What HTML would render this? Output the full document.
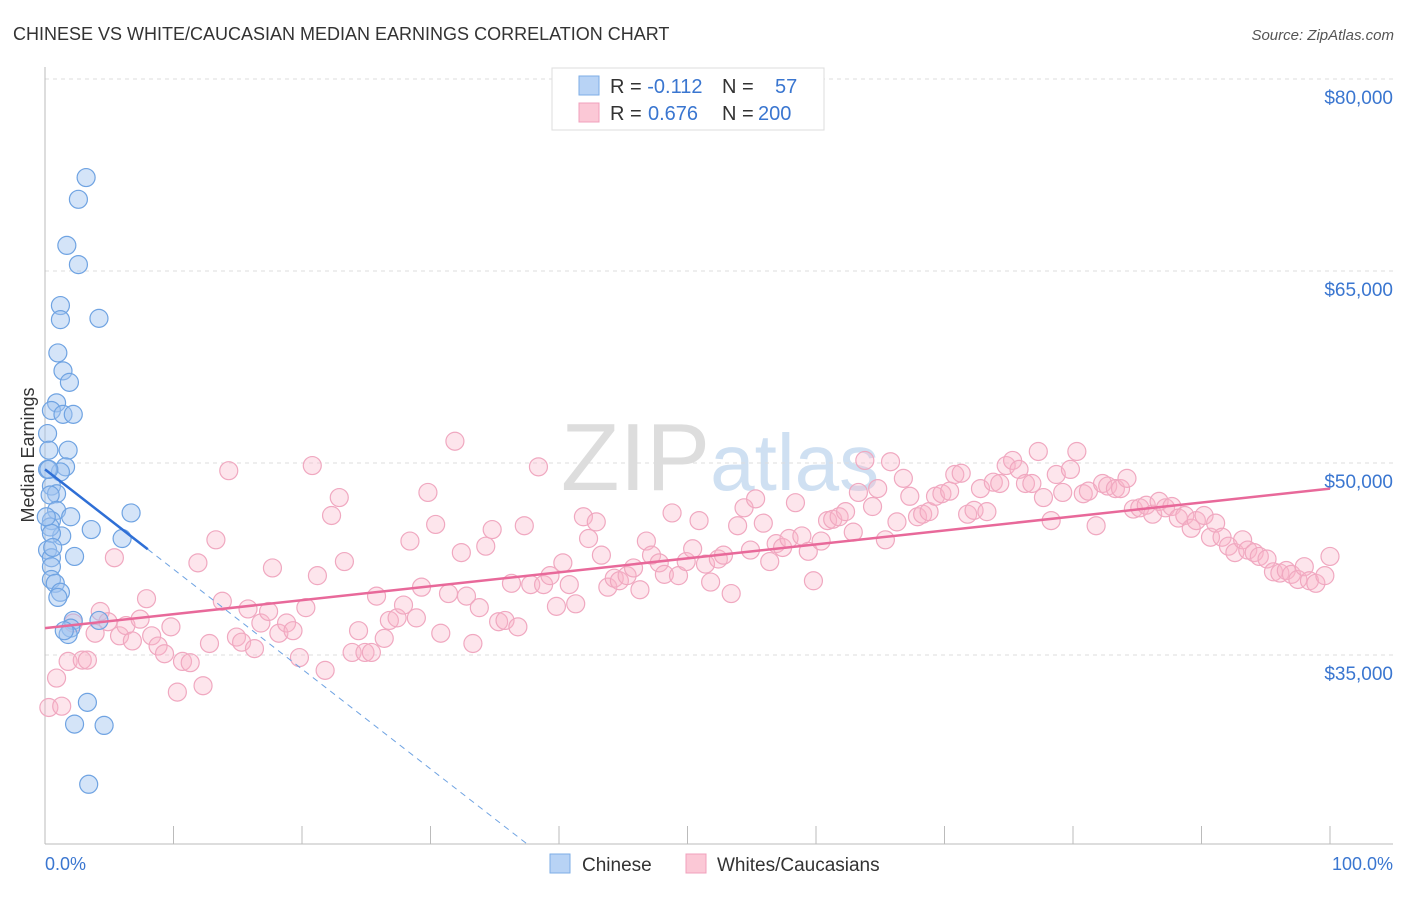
<!DOCTYPE html>
<html><head><meta charset="utf-8"><style>
body{margin:0;background:#fff;font-family:"Liberation Sans",sans-serif}
svg text{font-family:"Liberation Sans",sans-serif}
</style></head><body>
<svg id="chart" width="1406" height="892" viewBox="0 0 1406 892" xmlns="http://www.w3.org/2000/svg">
<text x="13" y="40" font-size="18" fill="#333">CHINESE VS WHITE/CAUCASIAN MEDIAN EARNINGS CORRELATION CHART</text>
<text x="1394" y="40" font-size="15" fill="#555" font-style="italic" text-anchor="end">Source: ZipAtlas.com</text>
<text x="720" y="490" font-size="96" fill="#ddd" font-family="Liberation Serif" text-anchor="middle">ZIP<tspan fill="#cfe0f2" font-family="Liberation Sans" font-size="80">atlas</tspan></text>
<g id="grid"></g><g id="axes"></g><g id="pink"></g><g id="blue"></g><g id="trend"></g>
<text transform="translate(34,455) rotate(-90)" font-size="18" fill="#333" text-anchor="middle">Median Earnings</text>
<text x="45" y="870" font-size="18" fill="#3a76d0">0.0%</text>
<text x="1393" y="870" font-size="18" fill="#3a76d0" text-anchor="end">100.0%</text>
<g>
<rect x="552" y="68" width="272" height="62" fill="#fff" stroke="#ddd"/>
<rect x="579" y="76" width="20" height="19" fill="#b8d3f5" stroke="#7eaee6"/>
<rect x="579" y="103" width="20" height="19" fill="#fbc8d6" stroke="#f0a0bc"/>
<text x="610" y="93" font-size="20" fill="#333">R = <tspan fill="#3a76d0">-0.112</tspan><tspan x="722">N = </tspan><tspan x="775" fill="#3a76d0">57</tspan></text>
<text x="610" y="120" font-size="20" fill="#333">R = <tspan fill="#3a76d0" x="648">0.676</tspan><tspan x="722">N = </tspan><tspan x="758" fill="#3a76d0">200</tspan></text>
</g>
<g>
<rect x="550" y="854" width="20" height="19" fill="#b8d3f5" stroke="#7eaee6"/>
<text x="582" y="871" font-size="19" fill="#333">Chinese</text>
<rect x="686" y="854" width="20" height="19" fill="#fbc8d6" stroke="#f0a0bc"/>
<text x="717" y="871" font-size="19" fill="#333">Whites/Caucasians</text>
</g>
</svg>
<script>
const yTicks=[35000,50000,65000,80000];
const yTickLabels=["$35,000","$50,000","$65,000","$80,000"];
const blueX=[3.2,2.6,1.7,2.6,1.2,1.2,4.2,1.0,1.4,1.9,0.9,0.5,1.4,2.2,0.2,1.8,0.3,1.6,1.2,0.5,0.9,0.4,0.9,2.0,0.5,6.7,3.6,1.3,0.4,0.5,6.0,0.2,0.5,2.3,0.5,0.5,0.8,1.2,2.2,4.2,2.0,1.8,3.3,2.3,4.6,3.4,0.1,0.2,0.6,1.0,1.5,0.3];
const blueY=[72.3,70.6,67.0,65.5,62.3,61.2,61.3,58.6,57.2,56.3,54.7,54.1,53.8,53.8,52.3,51.0,51.0,49.7,49.3,48.2,47.6,47.5,46.3,45.8,45.5,46.1,44.8,44.3,45.0,44.5,44.1,43.2,42.6,42.7,41.9,40.9,40.6,39.9,37.7,37.7,37.1,36.6,31.3,29.6,29.5,24.9,45.8,49.5,43.4,39.5,36.9,49.5];
const pinkX=[0.3,0.9,1.3,1.8,2.2,2.9,3.3,3.9,4.3,4.9,5.4,5.8,6.3,6.8,7.4,7.9,8.3,8.8,9.3,9.8,10.3,10.7,11.3,11.9,12.3,12.8,13.3,13.8,14.3,14.9,15.3,15.8,16.3,16.8,17.4,17.7,18.2,18.8,19.3,19.8,20.3,20.8,21.2,21.8,22.3,22.9,23.3,23.9,24.4,24.9,25.4,25.8,26.4,26.8,27.4,27.9,28.4,28.9,29.3,29.8,30.4,30.8,31.4,31.9,32.4,32.8,33.3,33.8,34.3,34.8,35.3,35.8,36.3,36.8,37.3,37.8,38.4,38.8,39.3,39.8,40.3,40.8,41.3,41.9,42.3,42.9,43.3,43.8,44.3,44.7,45.3,45.8,46.3,46.8,47.2,47.8,48.2,48.8,49.3,49.9,50.4,50.9,51.4,51.8,52.4,52.8,53.4,53.9,54.4,54.9,55.3,55.9,56.4,56.9,57.4,57.9,58.4,58.9,59.4,59.8,60.4,60.9,61.3,61.8,62.3,62.9,63.3,63.8,64.4,64.8,65.4,65.8,66.3,66.8,67.3,67.9,68.3,68.8,69.3,69.8,70.4,70.8,71.3,71.8,72.3,72.8,73.3,73.8,74.3,74.8,75.3,75.8,76.3,76.8,77.3,77.7,78.3,78.7,79.2,79.8,80.3,80.8,81.2,81.8,82.3,82.7,83.3,83.7,84.2,84.7,85.2,85.7,86.2,86.7,87.2,87.7,88.2,88.7,89.2,89.6,90.2,90.7,91.1,91.6,92.1,92.6,93.2,93.6,94.1,94.5,95.1,95.6,96.1,96.6,97.0,97.5,98.0,98.4,98.9,99.6,100];
const pinkY=[30.9,33.2,31.0,34.5,37.5,34.6,34.6,36.7,38.4,37.6,42.6,36.5,37.3,36.1,37.8,39.4,36.5,35.7,35.1,37.2,32.1,34.5,34.4,42.2,32.6,35.9,44.0,39.2,49.4,36.4,36.0,38.6,35.5,37.5,38.4,41.8,36.7,37.5,36.9,34.8,38.7,49.8,41.2,33.8,45.9,47.3,42.3,35.2,36.9,35.2,35.2,39.6,36.3,37.7,37.9,38.9,43.9,37.9,40.3,47.7,45.2,36.7,39.8,51.7,43.0,39.6,35.9,38.7,43.5,44.8,37.6,37.7,40.6,37.2,45.1,40.5,49.7,40.5,41.2,38.8,42.2,40.5,39.0,45.8,44.1,45.4,42.8,40.3,41.0,40.8,41.2,41.8,40.1,43.9,42.8,42.2,41.3,46.1,41.2,42.3,43.3,45.5,42.1,40.7,42.5,42.8,39.8,45.1,46.5,43.2,47.2,45.3,42.3,43.7,43.4,44.1,46.9,44.3,43.1,40.8,43.9,45.5,45.6,45.8,46.2,44.6,47.7,50.2,46.6,48.0,44.0,50.1,45.4,48.8,47.4,45.8,46.0,46.2,47.4,47.6,47.8,49.1,49.2,46.0,46.3,48.0,46.2,48.5,48.4,49.8,50.2,49.5,48.4,48.4,50.9,47.3,45.5,49.1,47.7,49.5,50.9,47.6,47.8,45.1,48.4,48.2,48.0,48.0,48.8,46.4,46.5,46.7,46.0,47.0,46.5,46.6,45.7,45.9,44.9,45.5,45.9,44.2,45.3,44.2,43.5,43.0,44.0,43.2,43.0,42.7,42.5,41.5,41.4,41.6,41.3,40.9,41.9,40.8,40.6,41.2,42.7];
const pinkTrend=[37.1,48.0];   // value at 0% and 100% (thousands)
const blueTrend=[49.5,-0.78];  // intercept, slope per %
const NS="http://www.w3.org/2000/svg";
const X0=45,X1=1330;
function xs(p){return X0+(X1-X0)*p/100;}
function ys(v){return 79+(80-v)*12.8;}
function mk(tag,attrs,parent){const e=document.createElementNS(NS,tag);for(const k in attrs)e.setAttribute(k,attrs[k]);parent.appendChild(e);return e;}
const grid=document.getElementById('grid'),axes=document.getElementById('axes');
yTicks.forEach((t,i)=>{
  const y=ys(t/1000);
  const l=mk('line',{x1:45,x2:1393,y1:y,y2:y,stroke:'#ddd','stroke-dasharray':'4,4'},grid);
  
  
  const tx=mk('text',{x:1393,y:y+25,'font-size':19,fill:'#3a76d0','text-anchor':'end'},axes);
  tx.textContent=yTickLabels[i];
  
  
});
const ax=mk('line',{x1:45,x2:45,y1:67,y2:844,stroke:'#bbb'},axes);


const bx=mk('line',{x1:45,x2:1393,y1:844,y2:844,stroke:'#bbb'},axes);


for(let i=0;i<=10;i++){const t=mk('line',{x1:xs(i*10),x2:xs(i*10),y1:826,y2:844,stroke:'#bbb'},axes);
  
  }
const pg=document.getElementById('pink');
pinkX.forEach((x,i)=>{const c=mk('circle',{cx:xs(x),cy:ys(pinkY[i]),r:9,fill:'rgba(248,180,200,0.35)',stroke:'#f0a8c0','stroke-width':1.2},pg);
  
  });
const bg=document.getElementById('blue');
blueX.forEach((x,i)=>{const c=mk('circle',{cx:xs(x),cy:ys(blueY[i]),r:9,fill:'rgba(160,196,240,0.45)',stroke:'#6fa3e2','stroke-width':1.2},bg);
  
  });
const tg=document.getElementById('trend');
const pl=mk('line',{x1:xs(0),y1:ys(pinkTrend[0]),x2:xs(100),y2:ys(pinkTrend[1]),stroke:'#e8699a','stroke-width':2.5},tg);


const bEnd=8;const bZero=(20.2-blueTrend[0])/blueTrend[1];
const bl=mk('line',{x1:xs(0),y1:ys(blueTrend[0]),x2:xs(bEnd),y2:ys(blueTrend[0]+blueTrend[1]*bEnd),stroke:'#2f6fd6','stroke-width':2.5},tg);


const bd=mk('line',{x1:xs(bEnd),y1:ys(blueTrend[0]+blueTrend[1]*bEnd),x2:xs(bZero),y2:ys(20.2),stroke:'#6fa3e2','stroke-width':1,'stroke-dasharray':'6,5'},tg);


</script>
</body></html>
